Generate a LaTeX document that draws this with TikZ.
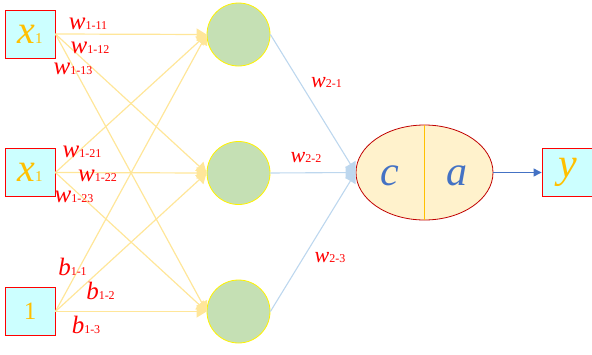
\documentclass[tikz,border=0pt]{standalone}
\usepackage{fontspec}
\setmainfont{Liberation Serif}
\usetikzlibrary{arrows.meta,shapes.geometric}
\definecolor{inyel}{HTML}{FFE699}
\definecolor{gold}{HTML}{FFC000}
\definecolor{boxfill}{HTML}{CCFFFF}
\definecolor{hidfill}{HTML}{C5E0B4}
\definecolor{outfill}{HTML}{FFF2CC}
\definecolor{outline}{HTML}{C00000}
\definecolor{lblue}{HTML}{BDD7EE}
\definecolor{mblue}{HTML}{4472C4}
\newcommand{\wlab}[3]{{\fontsize{#3}{#3}\selectfont\itshape #1}{\fontsize{12}{12}\selectfont #2}}
\begin{document}
\begin{tikzpicture}[x=1pt,y=-1pt,
  inbox/.style={draw=red, line width=0.8pt, fill=boxfill, minimum width=50pt, minimum height=48pt, inner sep=0pt},
  hid/.style={circle, draw=yellow, line width=0.8pt, fill=hidfill, minimum size=63pt, inner sep=0pt},
  inarrow/.style={draw=inyel, line width=1.2pt, -{Triangle[length=10pt,width=12pt]}},
  hidarrow/.style={draw=lblue, line width=1.1pt, -{Triangle[length=10pt,width=12pt]}},
  outarrow/.style={draw=mblue, line width=1pt, -{Triangle[length=8pt,width=8pt]}},
  lab/.style={text=red, inner sep=0pt}]
\useasboundingbox (0,0) rectangle (592,354);
% input boxes
\node[inbox] (i1) at (30,34) {\textcolor{gold}{{\fontsize{40}{40}\selectfont\itshape x}{\fontsize{15}{15}\selectfont 1}}};
\node[inbox] (i2) at (30,172.5) {\textcolor{gold}{{\fontsize{40}{40}\selectfont\itshape x}{\fontsize{15}{15}\selectfont 1}}};
\node[inbox] (i3) at (30,311.5) {\textcolor{gold}{\fontsize{25}{25}\selectfont 1}};
% hidden
\node[hid] (h1) at (238.5,34.5) {};
\node[hid] (h2) at (238.5,173) {};
\node[hid] (h3) at (238.5,311.5) {};
% output ellipse
\node[ellipse, draw=outline, line width=0.8pt, fill=outfill, minimum width=137pt, minimum height=95pt, inner sep=0pt] (o) at (424.5,172.5) {};
\draw[gold, line width=1pt] (o.north) -- (o.south);
\node[text=mblue, inner sep=0pt] (c) at (390,176) {\fontsize{42}{42}\selectfont\itshape c};
\node[text=mblue, inner sep=0pt] (a) at (457,176) {\fontsize{42}{42}\selectfont\itshape a};
% output box
\node[inbox, minimum width=51pt] (y) at (567.5,172.5) {\textcolor{gold}{\fontsize{42}{42}\selectfont\itshape y}};
% input edges
\foreach \i in {1,2,3}{
  \foreach \h in {1,2,3}{
    \draw[inarrow] (i\i.east) -- (h\h.west);
  }
}
% hidden edges
\foreach \h in {1,2,3}{
  \draw[hidarrow] (h\h.east) -- (o.west);
}
\draw[outarrow] (o.east) -- (y.west);
% labels
\node[lab] (w111) at (88,23.5) {\wlab{w}{1-11}{25}};
\node[lab] (w112) at (90,47.5) {\wlab{w}{1-12}{25}};
\node[lab] (w113) at (73,69) {\wlab{w}{1-13}{25}};
\node[lab] (w121) at (82,152) {\wlab{w}{1-21}{25}};
\node[lab] (w122) at (97.5,175.5) {\wlab{w}{1-22}{25}};
\node[lab] (w123) at (74,197) {\wlab{w}{1-23}{25}};
\node[lab] (b11) at (72.5,267) {\wlab{b}{1-1}{25}};
\node[lab] (b12) at (100.5,291) {\wlab{b}{1-2}{25}};
\node[lab] (b13) at (86,325) {\wlab{b}{1-3}{25}};
\node[lab] (w21) at (326.5,83) {\wlab{w}{2-1}{22}};
\node[lab] (w22) at (306,158) {\wlab{w}{2-2}{22}};
\node[lab] (w23) at (330,258) {\wlab{w}{2-3}{22}};
\end{tikzpicture}
\end{document}
